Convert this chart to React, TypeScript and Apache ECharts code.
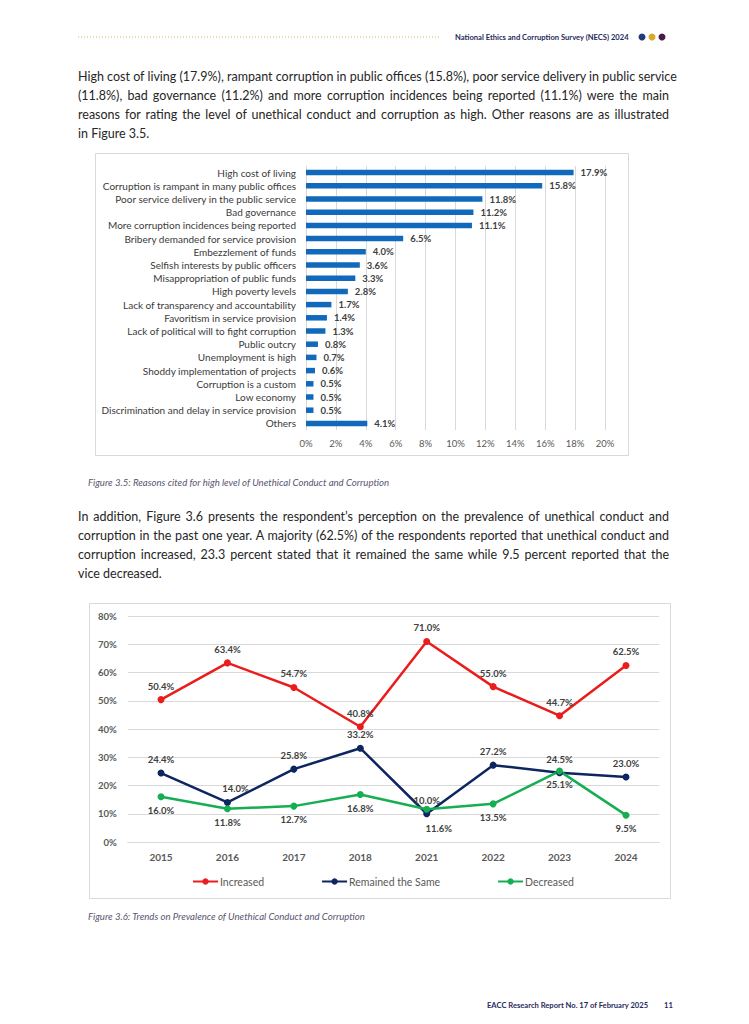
import React, { useEffect, useRef } from "react";
import * as echarts from "echarts";

const reasonCategories = [
  "High cost of living",
  "Corruption is rampant in many public offices",
  "Poor service delivery in the public service",
  "Bad governance",
  "More corruption incidences being reported",
  "Bribery demanded for service provision",
  "Embezzlement of funds",
  "Selfish interests by public officers",
  "Misappropriation of public funds",
  "High poverty levels",
  "Lack of transparency and accountability",
  "Favoritism in service provision",
  "Lack of political will to fight corruption",
  "Public outcry",
  "Unemployment is high",
  "Shoddy implementation of projects",
  "Corruption is a custom",
  "Low economy",
  "Discrimination and delay in service provision",
  "Others",
];
const reasonValues = [17.9, 15.8, 11.8, 11.2, 11.1, 6.5, 4.0, 3.6, 3.3, 2.8, 1.7, 1.4, 1.3, 0.8, 0.7, 0.6, 0.5, 0.5, 0.5, 4.1];

const years = ["2015", "2016", "2017", "2018", "2021", "2022", "2023", "2024"];
const increased = [50.4, 63.4, 54.7, 40.8, 71.0, 55.0, 44.7, 62.5];
const remainedSame = [24.4, 14.0, 25.8, 33.2, 10.0, 27.2, 24.5, 23.0];
const decreased = [16.0, 11.8, 12.7, 16.8, 11.6, 13.5, 25.1, 9.5];

const para1 = [
  "High cost of living (17.9%), rampant corruption in public offices (15.8%), poor service delivery in public service",
  "(11.8%), bad governance (11.2%) and more corruption incidences being reported (11.1%) were the main",
  "reasons for rating the level of unethical conduct and corruption as high. Other reasons are as illustrated",
  "in Figure 3.5.",
];
const para2 = [
  "In addition, Figure 3.6 presents the respondent\u2019s perception on the prevalence of unethical conduct and",
  "corruption in the past one year. A majority (62.5%) of the respondents reported that unethical conduct and",
  "corruption increased, 23.3 percent stated that it remained the same while 9.5 percent reported that the",
  "vice decreased.",
];

const FONT = "Lato, 'Liberation Sans', sans-serif";
const PAGE_FONT = "Lato, 'Noto Sans', sans-serif";

function Chart() {
  const ref = useRef<HTMLDivElement>(null);
  useEffect(() => {
    if (!ref.current) return;
    const chart = echarts.init(ref.current, undefined, { renderer: "svg" });
    const lineLabel = (pos: string) => ({
      show: true,
      position: pos,
      distance: 5,
      fontFamily: FONT,
      fontSize: 9.5,
      fontWeight: "bold",
      color: "#404040",
      formatter: (p: any) => p.value.toFixed(1) + "%",
    });
    const decreasedData = decreased.map((v, i) =>
      i === 4 ? { value: v, label: { offset: [12, 6] } } : v
    );
    const remainedData = remainedSame.map((v, i) =>
      i === 1 ? { value: v, label: { offset: [8, 0] } } : v
    );
    chart.setOption({
      animation: false,
      textStyle: { fontFamily: FONT },
      graphic: [
        { type: "rect", shape: { x: 95.5, y: 153.5, width: 533, height: 302 }, style: { fill: "none", stroke: "#d9d9d9", lineWidth: 1 } },
        { type: "rect", shape: { x: 89.5, y: 603.5, width: 581, height: 295 }, style: { fill: "none", stroke: "#d9d9d9", lineWidth: 1 } },
        { type: "line", shape: { x1: 78, y1: 37, x2: 440, y2: 37 }, style: { stroke: "#d6b95c", lineWidth: 1, lineDash: [1, 2] } },
        { type: "circle", shape: { cx: 642, cy: 37, r: 3.5 }, style: { fill: "#1f3c7c" } },
        { type: "circle", shape: { cx: 652, cy: 37, r: 3.5 }, style: { fill: "#d8aa2a" } },
        { type: "circle", shape: { cx: 662, cy: 37, r: 3.5 }, style: { fill: "#4a1a48" } },
      ],
      grid: [
        { left: 306, top: 166, width: 299, height: 264, containLabel: false },
        { left: 127.8, top: 616, width: 531.4, height: 226, containLabel: false },
      ],
      xAxis: [
        {
          gridIndex: 0,
          type: "value",
          min: 0,
          max: 20,
          interval: 2,
          axisLine: { show: false },
          axisTick: { show: false },
          splitLine: { lineStyle: { color: "#d9d9d9", width: 1 } },
          axisLabel: { formatter: "{value}%", color: "#595959", fontSize: 9.5, margin: 8 },
        },
        {
          gridIndex: 1,
          type: "category",
          data: years,
          boundaryGap: true,
          axisLine: { lineStyle: { color: "#d9d9d9" } },
          axisTick: { show: false },
          axisLabel: { color: "#595959", fontSize: 10, fontWeight: "bold", margin: 10 },
        },
      ],
      yAxis: [
        {
          gridIndex: 0,
          type: "category",
          data: reasonCategories,
          inverse: true,
          axisLine: { show: false },
          axisTick: { show: false },
          axisLabel: { color: "#3a3a3a", fontSize: 10, margin: 10 },
        },
        {
          gridIndex: 1,
          type: "value",
          min: 0,
          max: 80,
          interval: 10,
          axisLine: { show: false },
          axisTick: { show: false },
          splitLine: { lineStyle: { color: "#d9d9d9", width: 1 } },
          axisLabel: { formatter: "{value}%", color: "#595959", fontSize: 9.5, fontWeight: "bold", margin: 11 },
        },
      ],
      legend: {
        left: 192,
        top: 876,
        itemGap: 57,
        itemWidth: 25,
        itemHeight: 8,
        padding: 0,
        textStyle: { fontFamily: FONT, fontSize: 10.5, color: "#595959", padding: [0, 0, 0, -3] },
        data: ["Increased", "Remained the Same", "Decreased"],
      },
      series: [
        {
          type: "bar",
          xAxisIndex: 0,
          yAxisIndex: 0,
          data: reasonValues,
          barWidth: 5.5,
          itemStyle: { color: "#1069bb" },
          label: {
            show: true,
            position: "right",
            distance: 7,
            fontSize: 9.5,
            fontWeight: "bold",
            color: "#404040",
            formatter: (p: any) => p.value.toFixed(1) + "%",
          },
        },
        {
          name: "Increased",
          type: "line",
          xAxisIndex: 1,
          yAxisIndex: 1,
          data: increased,
          symbol: "circle",
          symbolSize: 7,
          lineStyle: { width: 2.5, color: "#ea1c1c" },
          itemStyle: { color: "#ea1c1c" },
          label: lineLabel("top"),
        },
        {
          name: "Remained the Same",
          type: "line",
          xAxisIndex: 1,
          yAxisIndex: 1,
          data: remainedData,
          symbol: "circle",
          symbolSize: 7,
          lineStyle: { width: 2.5, color: "#0d2560" },
          itemStyle: { color: "#0d2560" },
          label: lineLabel("top"),
        },
        {
          name: "Decreased",
          type: "line",
          xAxisIndex: 1,
          yAxisIndex: 1,
          data: decreasedData,
          symbol: "circle",
          symbolSize: 7,
          lineStyle: { width: 2.5, color: "#16ae52" },
          itemStyle: { color: "#16ae52" },
          label: lineLabel("bottom"),
        },
      ],
    });
    return () => chart.dispose();
  }, []);
  return <div ref={ref} style={{ position: "absolute", left: 0, top: 0, width: 749, height: 1024 }} />;
}

function TextLine({ text, top, justify }: { text: string; top: number; justify: boolean }) {
  return (
    <div
      style={{
        position: "absolute",
        left: 78,
        top,
        width: 591,
        height: 19,
        lineHeight: "19px",
        fontSize: 12.5,
        color: "#262626",
        fontFamily: PAGE_FONT,
        whiteSpace: "nowrap",
        textAlign: justify ? "justify" : "left",
        textAlignLast: justify ? "justify" : "left",
      } as any}
    >
      {text}
    </div>
  );
}

const captionStyle: any = {
  position: "absolute",
  left: 88,
  fontFamily: PAGE_FONT,
  fontStyle: "italic",
  fontSize: 9.6,
  lineHeight: "12px",
  color: "#5a5470",
  whiteSpace: "nowrap",
};

const headerStyle: any = {
  position: "absolute",
  fontFamily: PAGE_FONT,
  fontWeight: 700,
  fontSize: 7.6,
  lineHeight: "12px",
  color: "#1f2a5c",
  whiteSpace: "nowrap",
};

export default function App() {
  return (
    <div style={{ position: "absolute", left: 0, top: 0, width: 749, height: 1024, background: "#fff", overflow: "hidden" }}>
      <Chart />
      <div style={{ ...headerStyle, left: 455, top: 31 }}>National Ethics and Corruption Survey (NECS) 2024</div>
      {para1.map((t, i) => (
        <TextLine key={"a" + i} text={t} top={66.5 + i * 19} justify={i < para1.length - 1} />
      ))}
      <div style={{ ...captionStyle, top: 477 }}>Figure 3.5: Reasons cited for high level of Unethical Conduct and Corruption</div>
      {para2.map((t, i) => (
        <TextLine key={"b" + i} text={t} top={506.5 + i * 19} justify={i < para2.length - 1} />
      ))}
      <div style={{ ...captionStyle, top: 911 }}>Figure 3.6: Trends on Prevalence of Unethical Conduct and Corruption</div>
      <div style={{ ...headerStyle, left: 487, top: 999 }}>EACC Research Report No. 17 of February 2025</div>
      <div style={{ ...headerStyle, left: 664, top: 999 }}>11</div>
    </div>
  );
}
